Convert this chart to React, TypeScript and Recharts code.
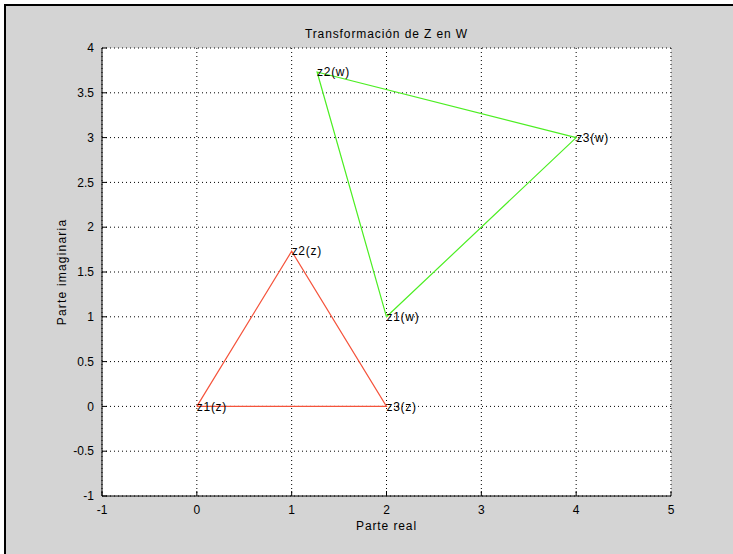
import { ScatterChart, Scatter, XAxis, YAxis, CartesianGrid } from 'recharts';

const xTicks = [-1, 0, 1, 2, 3, 4, 5];
const yTicks = [-1, -0.5, 0, 0.5, 1, 1.5, 2, 2.5, 3, 3.5, 4];

// triangle in Z
const zPoints = [
  { x: 0, y: 0, name: 'z1(z)' },
  { x: 1, y: 1.732, name: 'z2(z)' },
  { x: 2, y: 0, name: 'z3(z)' },
];

// transformed triangle in W
const wPoints = [
  { x: 2, y: 1, name: 'z1(w)' },
  { x: 1.268, y: 3.732, name: 'z2(w)' },
  { x: 4, y: 3, name: 'z3(w)' },
];

const RED = '#f5533b';
const GREEN = '#4cee22';
const FONT = '"Liberation Sans Narrow", "Liberation Sans", Arial, sans-serif';

const noDot = () => <g />;

const pointLabel = (p: any) => (
  <text x={p.cx} y={p.cy} dy="0.35em" fontSize={12} fontFamily={FONT} fill="#000" letterSpacing={0.7}>
    {p.payload.name}
  </text>
);

export default function App() {
  return (
    <div style={{ position: 'relative', width: 733, height: 554, background: '#fff', fontFamily: FONT }}>
      <style>{'body{margin:0}'}</style>
      <div
        style={{
          position: 'absolute', left: 4, top: 4, width: 729, height: 550,
          background: '#d4d4d4', borderTop: '2px solid #000', borderLeft: '2px solid #000',
          boxSizing: 'border-box',
        }}
      />
      <div style={{ position: 'absolute', left: 0, top: 0 }}>
        <ScatterChart width={733} height={554} margin={{ top: 48, right: 62, left: 0, bottom: 0 }}>
          <CartesianGrid fill="#fff" stroke="#000" strokeDasharray="1 3" />
          <XAxis
            type="number" dataKey="x" domain={[-1, 5]} ticks={xTicks} allowDataOverflow
            height={58} stroke="#000" tickSize={-5} tickMargin={14}
            tick={{ fill: '#000', fontSize: 12, fontFamily: FONT }}
          />
          <YAxis
            type="number" dataKey="y" domain={[-1, 4]} ticks={yTicks} allowDataOverflow
            width={102} stroke="#000" tickSize={-5} tickMargin={13}
            tick={{ fill: '#000', fontSize: 12, fontFamily: FONT }}
          />
          <Scatter data={[...zPoints, zPoints[0]]} line={{ stroke: RED, strokeWidth: 1.2 }} shape={noDot} isAnimationActive={false} />
          <Scatter data={[...wPoints, wPoints[0]]} line={{ stroke: GREEN, strokeWidth: 1.2 }} shape={noDot} isAnimationActive={false} />
          <Scatter data={zPoints} shape={pointLabel} isAnimationActive={false} />
          <Scatter data={wPoints} shape={pointLabel} isAnimationActive={false} />
        </ScatterChart>
      </div>
      <div style={{ position: 'absolute', left: 0, width: 773, top: 27, textAlign: 'center', fontSize: 12, letterSpacing: 0.9, color: '#000' }}>
        Transformación de Z en W
      </div>
      <div style={{ position: 'absolute', left: 0, width: 773, top: 519, textAlign: 'center', fontSize: 12, letterSpacing: 0.9, color: '#000' }}>
        Parte real
      </div>
      <div
        style={{
          position: 'absolute', left: 62, top: 272, fontSize: 12, letterSpacing: 1.2, color: '#000', whiteSpace: 'nowrap',
          transform: 'translate(-50%, -50%) rotate(-90deg)',
        }}
      >
        Parte imaginaria
      </div>
    </div>
  );
}
